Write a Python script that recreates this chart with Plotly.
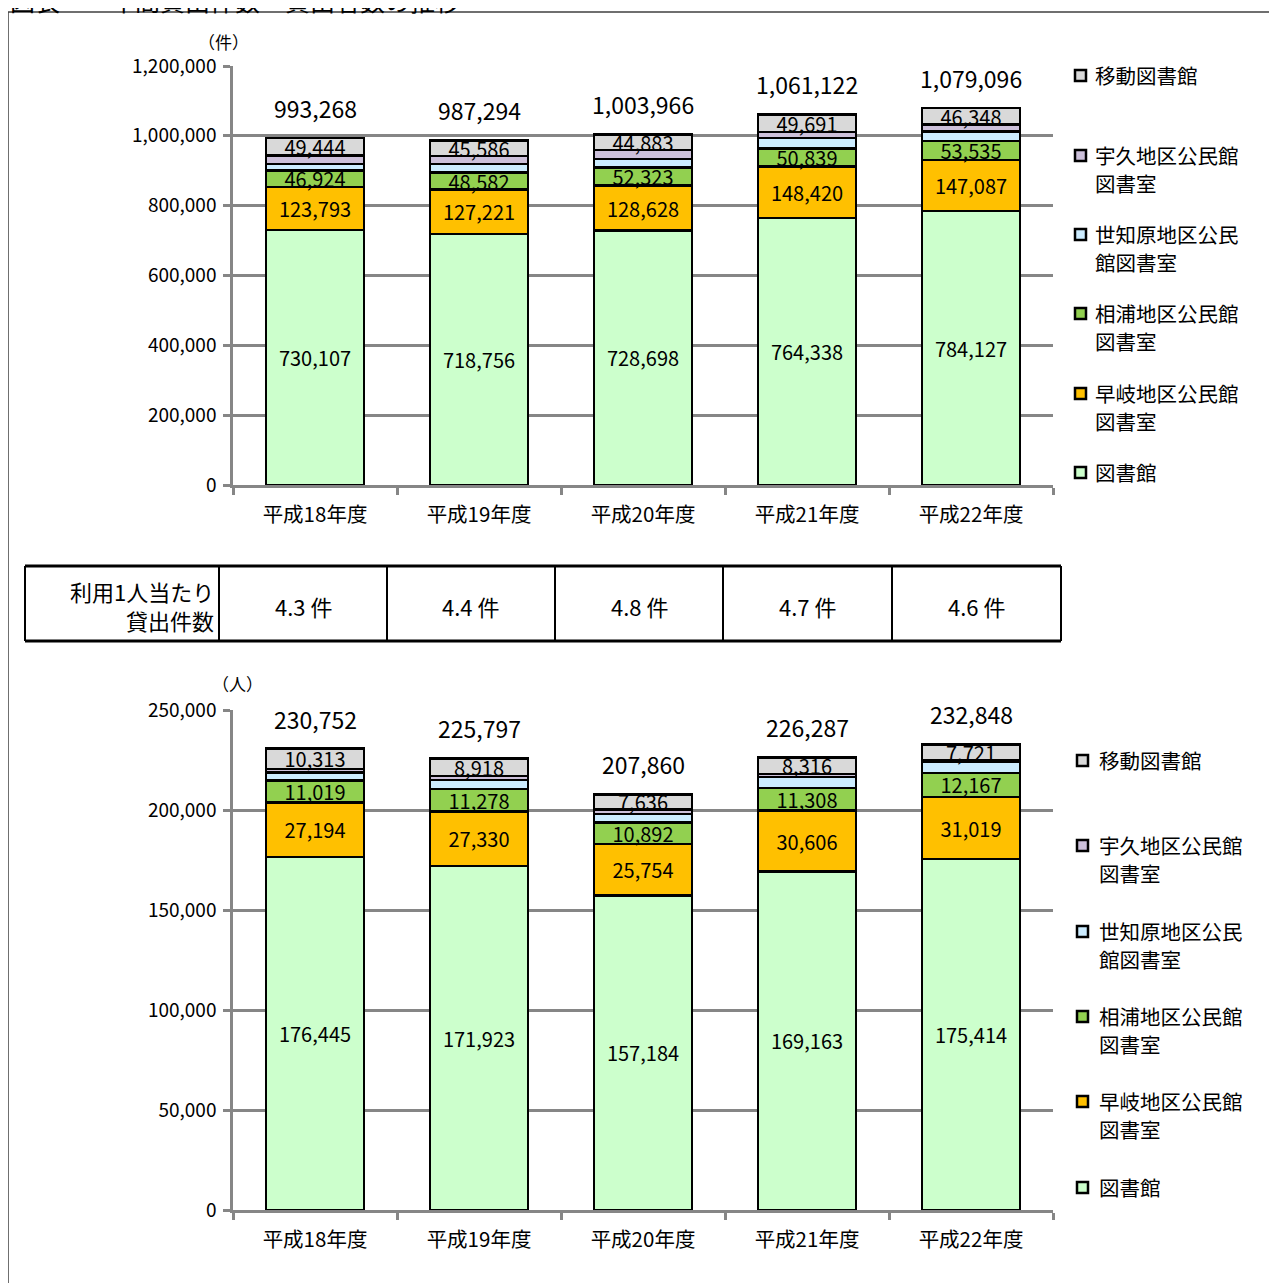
import plotly.graph_objects as go

W, H = 1277, 1283

# ---------------- data ----------------
years = ["平成18年度", "平成19年度", "平成20年度", "平成21年度", "平成22年度"]
series_names = ["図書館", "早岐地区公民館図書室", "相浦地区公民館図書室",
                "世知原地区公民館図書室", "宇久地区公民館図書室", "移動図書館"]
legend_lines = [["図書館"], ["早岐地区公民館", "図書室"], ["相浦地区公民館", "図書室"],
                ["世知原地区公民", "館図書室"], ["宇久地区公民館", "図書室"], ["移動図書館"]]
colors = ["#CCFFCC", "#FFC000", "#92D050", "#CCECFF", "#CCC0DA", "#D9D9D9"]
labelled = [True, True, True, False, False, True]

# 貸出件数 (件)
loans_toshokan = [730107, 718756, 728698, 764338, 784127]
loans_haiki = [123793, 127221, 128628, 148420, 147087]
loans_ainoura = [46924, 48582, 52323, 50839, 53535]
loans_sechibaru = [18000, 25149, 24434, 30834, 28000]
loans_uku = [25000, 22000, 25000, 17000, 19999]
loans_idou = [49444, 45586, 44883, 49691, 46348]
loans_total = [993268, 987294, 1003966, 1061122, 1079096]

# 貸出者数 (人)
users_toshokan = [176445, 171923, 157184, 169163, 175414]
users_haiki = [27194, 27330, 25754, 30606, 31019]
users_ainoura = [11019, 11278, 10892, 11308, 12167]
users_sechibaru = [3981, 4348, 4094, 5394, 5527]
users_uku = [1800, 2000, 2300, 1500, 1000]
users_idou = [10313, 8918, 7636, 8316, 7721]
users_total = [230752, 225797, 207860, 226287, 232848]

# 利用1人当たり貸出件数
per_person = [4.3, 4.4, 4.8, 4.7, 4.6]

loans = [loans_toshokan, loans_haiki, loans_ainoura, loans_sechibaru, loans_uku, loans_idou]
users = [users_toshokan, users_haiki, users_ainoura, users_sechibaru, users_uku, users_idou]

# ---------------- helpers ----------------
FONT = "Noto Sans CJK JP"
GRID = "#868686"
OFF = 8  # page body margin


def px(x):
    return (x - OFF) / W


def py(y):
    return 1 - (y - OFF) / H


fig = go.Figure()

for data, xa, ya in [(loans, "x", "y"), (users, "x2", "y2")]:
    for i, name in enumerate(series_names):
        fig.add_trace(go.Bar(
            x=years, y=data[i], name=name, xaxis=xa, yaxis=ya,
            marker=dict(color=colors[i], line=dict(color="black", width=2.5)),
            texttemplate="%{y:,}" if labelled[i] else "",
            textposition="inside", insidetextanchor="middle", textangle=0,
            constraintext="none",
            textfont=dict(family=FONT, size=20, color="black"),
            showlegend=False, hoverinfo="skip",
        ))

annotations = []
shapes = []

# totals above bars
for totals, xr, yr in [(loans_total, "x", "y"), (users_total, "x2", "y2")]:
    for yr_lbl, t in zip(years, totals):
        annotations.append(dict(
            x=yr_lbl, y=t, xref=xr, yref=yr, yshift=30, showarrow=False,
            xanchor="center", yanchor="middle",
            text=f"{t:,}", font=dict(family=FONT, size=23, color="black"),
            bgcolor="white", borderpad=3,
        ))

# manual legends
for first_lines, tx, sq in [([472, 393, 313, 234, 155, 75], 1093, 1075),
                            ([1187, 1101, 1016, 931, 845, 760], 1097, 1077)]:
    for i in range(len(series_names)):
        y0 = first_lines[i]
        for k, line in enumerate(legend_lines[i]):
            annotations.append(dict(
                x=px(tx), y=py(y0 + 28 * k), xref="paper", yref="paper",
                xanchor="left", yanchor="middle", showarrow=False, text=line,
                font=dict(family=FONT, size=20.5, color="black"),
            ))
        shapes.append(dict(
            type="rect", xref="paper", yref="paper",
            x0=px(sq), x1=px(sq + 11), y0=py(y0 + 6), y1=py(y0 - 5),
            fillcolor=colors[i], line=dict(color="black", width=2.5),
        ))

# unit labels
annotations.append(dict(x=px(223), y=py(41), xref="paper", yref="paper", showarrow=False,
                        xanchor="center", yanchor="middle",
                        text="（件）", font=dict(family=FONT, size=17, color="black")))
annotations.append(dict(x=px(238), y=py(683), xref="paper", yref="paper", showarrow=False,
                        xanchor="center", yanchor="middle",
                        text="（人）", font=dict(family=FONT, size=17, color="black")))

# title (partly cropped at top, as in the source)
annotations.append(dict(x=px(8), y=py(0), xref="paper", yref="paper", showarrow=False,
                        xanchor="left", yanchor="middle",
                        text="図表　　年間貸出件数・貸出者数の推移",
                        font=dict(family=FONT, size=25, color="black")))

# outer frame
shapes.append(dict(type="rect", xref="paper", yref="paper",
                   x0=px(8), x1=px(1320), y0=py(1320), y1=py(12),
                   line=dict(color="#404040", width=1.5), layer="below"))

# table
t_top, t_bot = 566, 641
cols = [25, 219, 387, 555, 723, 892, 1061]
for yy in (t_top, t_bot):
    shapes.append(dict(type="line", xref="paper", yref="paper",
                       x0=px(cols[0]), x1=px(cols[-1]), y0=py(yy), y1=py(yy),
                       line=dict(color="black", width=3)))
for cx in cols:
    shapes.append(dict(type="line", xref="paper", yref="paper",
                       x0=px(cx), x1=px(cx), y0=py(t_top), y1=py(t_bot),
                       line=dict(color="black", width=2)))
annotations.append(dict(x=px(216), y=py(591), xref="paper", yref="paper", showarrow=False,
                        xanchor="right", yanchor="middle", text="利用1人当たり",
                        font=dict(family=FONT, size=22, color="black")))
annotations.append(dict(x=px(216), y=py(620), xref="paper", yref="paper", showarrow=False,
                        xanchor="right", yanchor="middle", text="貸出件数",
                        font=dict(family=FONT, size=22, color="black")))
for i, v in enumerate(per_person):
    cx = (cols[i + 1] + cols[i + 2]) / 2
    annotations.append(dict(x=px(cx), y=py(606), xref="paper", yref="paper", showarrow=False,
                            xanchor="center", yanchor="middle", text=f"{v:.1f} 件",
                            font=dict(family=FONT, size=22, color="black")))

axis_common_x = dict(type="category", tickson="boundaries", ticks="outside", ticklen=7,
                     tickwidth=2.5, tickcolor=GRID, showline=True, linecolor=GRID,
                     linewidth=2.5, range=[-0.5, 4.5], showgrid=False, automargin=False,
                     ticklabelstandoff=10,
                     tickfont=dict(family=FONT, size=20.5, color="black"))
axis_common_y = dict(tickformat=",", ticks="outside", ticklen=7, tickwidth=2.5,
                     tickcolor=GRID, showline=True, linecolor=GRID, linewidth=2.5,
                     showgrid=True, gridcolor=GRID, gridwidth=2.5, zeroline=False,
                     automargin=False, ticklabelstandoff=3,
                     tickfont=dict(family=FONT, size=19, color="black"))

fig.update_layout(
    width=W, height=H, margin=dict(l=0, r=0, t=0, b=0, pad=0, autoexpand=False),
    paper_bgcolor="white", plot_bgcolor="white",
    barmode="stack", bargap=0.4, showlegend=False,
    font=dict(family=FONT, color="black"),
    xaxis=dict(domain=[px(233), px(1053)], anchor="y", **axis_common_x),
    yaxis=dict(domain=[py(485), py(66)], anchor="x", range=[0, 1200000], dtick=200000,
               **axis_common_y),
    xaxis2=dict(domain=[px(233), px(1053)], anchor="y2", **axis_common_x),
    yaxis2=dict(domain=[py(1210), py(710)], anchor="x2", range=[0, 250000], dtick=50000,
                **axis_common_y),
    annotations=annotations, shapes=shapes,
)

fig.write_html("out.html")
